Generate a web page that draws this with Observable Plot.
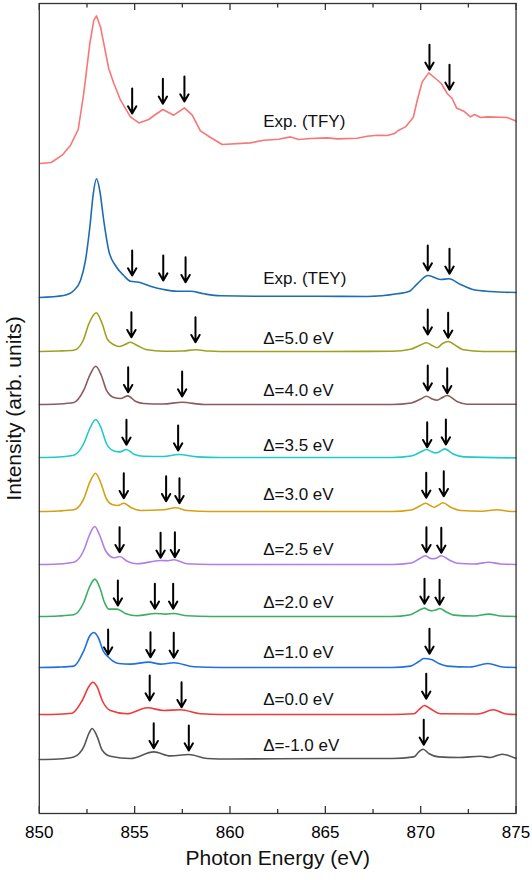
<!DOCTYPE html>
<html>
<head>
<meta charset="utf-8">
<script src="https://cdn.jsdelivr.net/npm/d3@7"></script>
<script src="https://cdn.jsdelivr.net/npm/@observablehq/plot@0.6"></script>
<style>
  html, body { margin: 0; padding: 0; background: #fff; }
  #chart svg { display: block; }
</style>
</head>
<body>
<div id="chart"></div>
<script>
// ---- Data (photon energy in eV, intensity in arb. units, relative to each trace's baseline) ----
const labels = ["Exp. (TFY)", "Exp. (TEY)", "Δ=5.0 eV", "Δ=4.0 eV", "Δ=3.5 eV", "Δ=3.0 eV",
                "Δ=2.5 eV", "Δ=2.0 eV", "Δ=1.0 eV", "Δ=0.0 eV", "Δ=-1.0 eV"];
const offsets = [65.0, 51.6, 46.2, 40.9, 35.6, 30.2, 24.9, 19.7, 14.6, 9.9, 5.4];
const labelY = [69.17, 53.51, 47.51, 42.34, 36.84, 31.91, 26.44, 21.11, 16.11, 11.41, 6.84];

const tfyE = [850.03,850.62,851.2,851.64,852.04,852.33,852.65,852.86,853.0,853.21,853.64,853.91,854.26,854.78,855.22,855.74,856.09,856.48,857.05,857.61,858.02,858.45,858.98,859.59,861.07,861.77,862.56,863.17,863.61,864.22,865.10,865.62,866.67,867.19,867.72,868.24,868.63,868.85,869.20,869.61,869.82,870.08,870.42,870.78,871.08,871.39,871.65,871.88,872.26,872.61,872.82,873.14,873.49,874.54,875.0];
const tfyI = [0,0.1,0.83,1.83,3.4,7.0,12.0,14.33,14.76,13.66,9.5,8.0,6.33,4.66,4.06,4.4,4.9,5.4,4.83,5.56,4.83,3.26,2.6,1.9,2.06,2.33,2.43,2.66,2.4,2.5,2.56,2.46,2.53,2.73,2.83,2.8,3.0,3.33,3.66,4.6,6.33,8.16,9.06,8.5,8.0,7.0,6.5,5.56,5.23,4.66,4.9,4.6,4.66,4.6,4.26];

const teyE = [850.0,851.28,851.81,852.16,852.42,852.65,852.83,853.0,853.17,853.38,853.64,853.99,854.43,854.78,855.22,855.83,856.53,857.23,857.93,858.63,859.5,861.77,864.57,867.19,868.77,869.38,869.82,870.39,871.05,871.48,872.09,872.79,873.67,875.0];
const teyI = [0,0.2,0.7,1.7,3.7,7.03,10.37,11.87,10.7,7.7,4.7,3.2,2.2,1.63,1.53,1.13,0.8,0.63,0.63,0.37,0.17,0.13,0.13,0.1,0.37,0.6,1.37,2.2,1.8,1.87,1.3,0.77,0.6,0.5];

const d50E = [850,851.0,851.8,852.3,852.6,852.98,853.3,853.56,853.91,854.17,854.5,854.78,855.13,855.66,856.5,857.5,858.2,858.9,860,865,868.5,869.47,869.99,870.3,870.6,870.86,871.13,871.44,871.91,872.25,873.3,875];
const d50I = [0,0.05,0.12,1.1,2.77,3.87,2.77,1.27,0.67,0.5,0.7,0.93,0.6,0.17,0.03,0.05,0.17,0.05,0,0,0.02,0.23,0.65,0.87,0.6,0.37,0.77,1.0,0.5,0.17,0,0];

const d40E = [850,851.0,851.81,852.33,852.65,852.96,853.25,853.52,853.91,854.26,854.64,855.04,855.48,856.5,857.49,858.63,865,868.5,869.5,870.0,870.3,870.6,870.86,871.1,871.39,871.9,872.44,875];
const d40I = [0,0.05,0.2,1.43,2.93,3.83,2.93,1.43,0.7,0.6,0.86,0.33,0.1,0.05,0.23,0,0,0,0.15,0.55,0.83,0.55,0.43,0.65,0.9,0.3,0.03,0.03];

const d35E = [850,851.0,851.81,852.33,852.65,852.96,853.25,853.52,853.91,854.22,854.56,854.96,855.48,856.5,857.32,858.3,859.5,865,868.5,869.5,870.0,870.3,870.55,870.78,871.0,871.26,871.7,872.26,875];
const d35I = [0,0.05,0.23,1.4,2.9,3.8,2.9,1.4,0.66,0.56,0.8,0.33,0.13,0.1,0.3,0.06,0,0,0,0.15,0.55,0.8,0.6,0.46,0.6,0.86,0.35,0.06,-0.04];

const d30E = [850,851.0,851.81,852.33,852.65,852.95,853.21,853.52,853.82,854.12,854.43,854.78,855.31,856.53,857.14,857.76,859,865,868.5,869.5,869.95,870.25,870.5,870.69,870.9,871.16,871.6,872.09,873.2,874.01,874.6,875];
const d30I = [0,0.05,0.17,1.27,2.93,3.83,2.93,1.27,0.7,0.6,0.83,0.43,0.1,0.17,0.37,0.1,0,0,0,0.15,0.55,0.83,0.6,0.43,0.6,0.87,0.4,0.1,0.03,0.17,0.03,0];

const d25E = [850,851.0,851.81,852.33,852.62,852.91,853.17,853.47,853.73,853.91,854.22,854.61,855.13,856.36,856.75,857.05,857.76,859,865,868.5,869.5,869.95,870.25,870.45,870.65,870.85,871.07,871.5,871.91,872.8,873.57,874.2,875];
const d25I = [0,0.05,0.23,1.4,2.9,3.8,2.9,1.4,0.8,0.67,0.8,0.33,0.07,0.4,0.38,0.47,0.07,0,0,0,0.15,0.6,0.87,0.65,0.57,0.65,0.87,0.45,0.13,0.05,0.23,0.05,0];

const d20E = [850,851.0,851.81,852.33,852.62,852.91,853.17,853.42,853.64,854.08,854.51,855.13,856.09,856.62,857.05,857.76,859,865,868.5,869.4,869.9,870.2,870.4,870.6,870.8,871.0,871.35,871.74,872.8,873.57,874.2,875];
const d20I = [0,0.05,0.17,1.4,2.9,3.74,2.9,1.4,0.74,0.74,0.3,0.07,0.3,0.24,0.3,0.07,0,0,0,0.15,0.6,0.84,0.65,0.57,0.65,0.8,0.45,0.14,0.05,0.24,0.05,0];

const d10E = [850,851.0,851.81,852.33,852.65,852.86,853.09,853.35,853.64,854.17,854.78,855.74,856.36,857.05,858.1,859.5,865,868.5,869.47,869.9,870.16,870.6,870.95,871.39,872.6,873.52,874.3,875];
const d10I = [0,0.04,0.14,1.67,3.17,3.5,3.0,1.67,1.0,0.4,0.34,0.54,0.34,0.47,0.07,0,0,0,0.14,0.6,0.9,0.77,0.4,0.14,0.05,0.4,0.05,0];

const d00E = [850,851.0,851.72,852.25,852.6,852.81,853.04,853.3,853.73,854.61,855.66,856.53,857.4,858.45,859.5,865,868.5,869.64,869.9,870.2,870.51,871.04,873.0,873.8,874.5,875];
const d00I = [0,0.03,0.13,1.4,2.8,3.23,2.73,1.4,0.4,0.07,0.67,0.4,0.47,0.07,0,0,0,0.07,0.47,0.9,0.57,0.07,0.05,0.47,0.05,0];

const dm10E = [850,851.0,851.81,852.33,852.6,852.77,853.04,853.3,853.73,854.78,856.0,856.88,857.84,858.8,860,865,868.5,869.64,869.9,870.13,870.42,870.95,872.0,873.14,873.66,874.27,875];
const dm10I = [0,0.05,0.26,1.26,2.6,3.1,2.26,0.93,0.33,0.1,0.76,0.36,0.5,0.1,0.05,0.1,0.1,0.26,0.76,1.03,0.6,0.26,0.2,0.33,0.2,0.53,0.1];

// Arrow markers: energy (eV) and tip height (arb. units)
const arrowE = [854.87,856.48,857.61,870.46,871.51,
                854.87,856.5,857.67,870.37,871.51,
                854.83,858.19,870.37,871.44,
                854.66,857.49,870.37,871.39,
                854.57,857.28,870.34,871.32,
                854.43,856.65,857.35,870.29,871.21,
                854.21,856.36,857.11,870.30,871.08,
                854.12,856.06,857.02,870.2,870.99,
                853.61,855.83,857.05,870.46,
                855.79,857.46,870.29,
                856.0,857.84,870.16];
const arrowTip = [70.0,70.97,71.2,74.37,72.37,
                  53.8,53.3,53.13,54.3,53.97,
                  47.63,47.13,47.9,47.57,
                  42.13,41.7,42.3,42.03,
                  36.87,36.3,36.63,36.9,
                  31.53,31.23,31.03,31.57,31.73,
                  26.13,25.57,25.63,26.13,26.07,
                  20.8,20.47,20.47,20.97,20.87,
                  15.9,15.63,15.57,15.97,
                  11.3,10.63,11.47,
                  6.53,6.3,6.87];

const xTicks = [850, 855, 860, 865, 870, 875];
const xMinor = [852.5, 857.5, 862.5, 867.5, 872.5];

// ---- Styles ----
const colors = ["#f87676", "#1f6db0", "#a0a01e", "#8c5a5c", "#1ecbcb", "#d5a012",
                "#b07ee8", "#3cae64", "#2170e0", "#f03a3a", "#555555"];
const seriesE = [tfyE, teyE, d50E, d40E, d35E, d30E, d25E, d20E, d10E, d00E, dm10E];
const seriesI = [tfyI, teyI, d50I, d40I, d35I, d30I, d25I, d20I, d10I, d00I, dm10I];

const lineMarks = seriesE.map((E, k) => Plot.line(
  E.map((x, i) => ({x, y: seriesI[k][i] + offsets[k]})),
  {x: "x", y: "y", stroke: colors[k], strokeWidth: 1.6,
   curve: k === 0 ? "linear" : "monotone-x"}
));

const arrows = arrowE.map((x, i) => ({x, tip: arrowTip[i]}));
const labelData = labels.map((t, i) => ({t, y: labelY[i]}));
const ARROW_LEN = 2.5;

const chart = Plot.plot({
  width: 532,
  height: 880,
  marginLeft: 38.8,
  marginRight: 16.45,
  marginTop: 3,
  marginBottom: 67,
  style: {fontFamily: "'Liberation Sans', Arial, sans-serif", fontSize: "17px", background: "#fff", color: "#000"},
  x: {domain: [850, 875]},
  y: {domain: [0, 81], axis: null},
  marks: [
    ...lineMarks,
    Plot.arrow(arrows, {x1: "x", x2: "x", y1: d => d.tip + ARROW_LEN, y2: "tip",
      stroke: "#000", strokeWidth: 2, headLength: 8, headAngle: 60}),
    Plot.text(labelData, {x: 861.74, y: "y", text: "t", textAnchor: "start", fontSize: 17, fill: "#111"}),
    Plot.ruleX(xTicks, {x: d => d, y1: 0, y2: 0.7, stroke: "#333", strokeWidth: 1.3}),
    Plot.ruleX(xTicks, {x: d => d, y1: 80.3, y2: 81, stroke: "#333", strokeWidth: 1.3}),
    Plot.ruleX(xMinor, {x: d => d, y1: 0, y2: 0.4, stroke: "#333", strokeWidth: 1.3}),
    Plot.ruleX(xMinor, {x: d => d, y1: 80.55, y2: 81, stroke: "#333", strokeWidth: 1.3}),
    Plot.frame({stroke: "#333", strokeWidth: 1.3}),
    Plot.axisX({ticks: xTicks, tickSize: 0, tickPadding: 12, tickFormat: d => String(d), fontSize: 17, label: null}),
    Plot.text(["Photon Energy (eV)"], {frameAnchor: "bottom", lineAnchor: "middle", textAnchor: "middle",
      dy: 44.3, text: d => d, fontSize: 21, fill: "#111"}),
    Plot.text(["Intensity (arb. units)"], {frameAnchor: "left", lineAnchor: "middle", textAnchor: "middle",
      dx: -25.5, rotate: -90, text: d => d, fontSize: 21, fill: "#111"})
  ]
});
document.getElementById("chart").appendChild(chart);
</script>
</body>
</html>
